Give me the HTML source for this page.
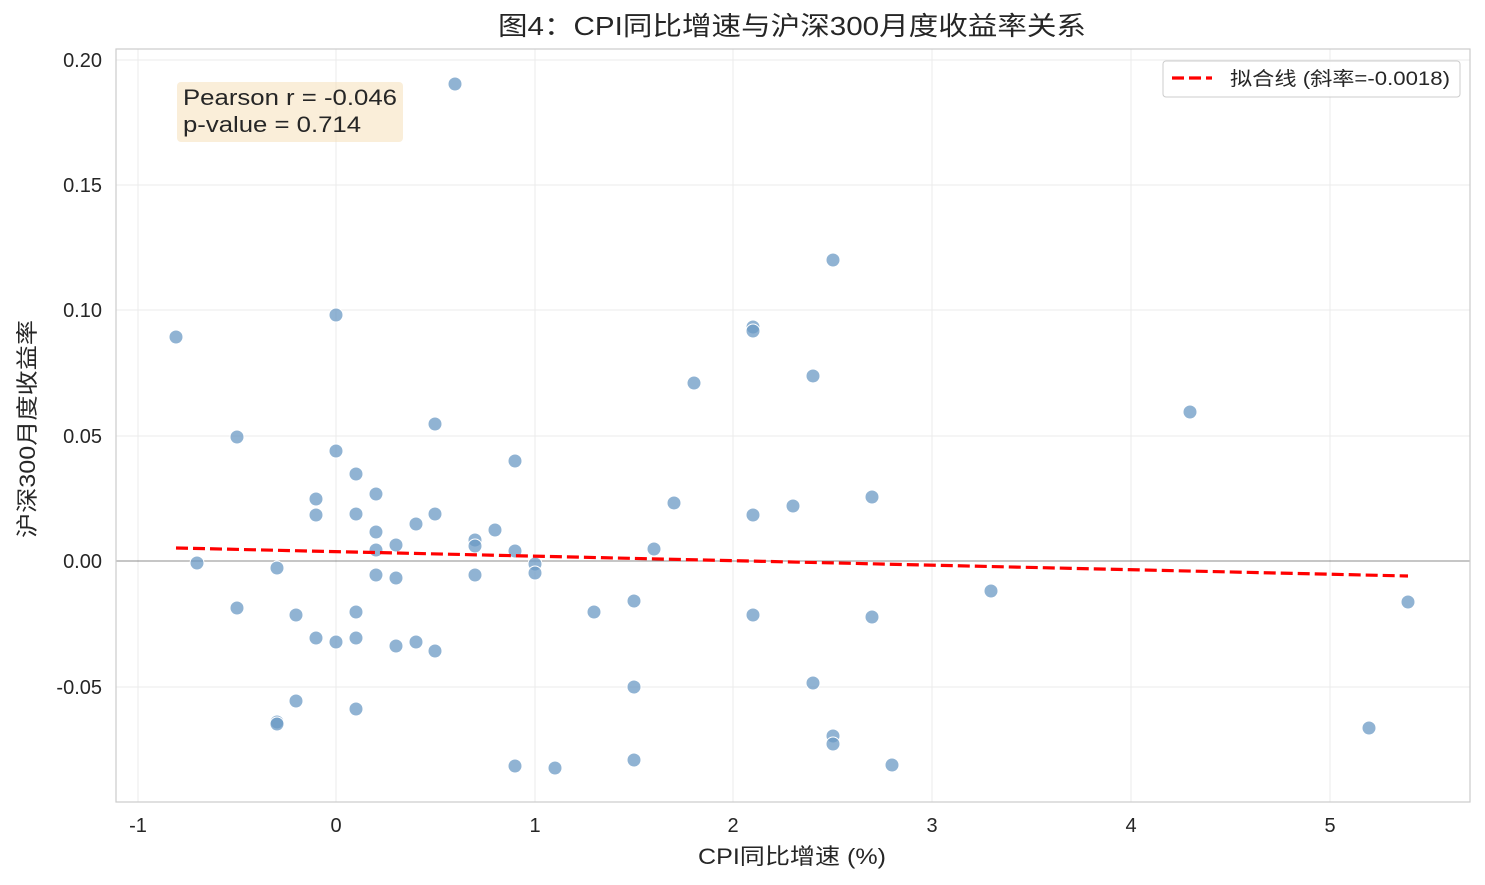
<!DOCTYPE html>
<html><head><meta charset="utf-8"><style>
body{margin:0;background:#fff;}
svg{display:block;font-family:"Liberation Sans","Noto Sans CJK SC",sans-serif;}
</style></head><body>
<svg width="1485" height="885" viewBox="0 0 1485 885">
<rect width="1485" height="885" fill="#fff"/>
<g stroke="#ebebeb" stroke-width="1">
<line x1="138" y1="49" x2="138" y2="802"/><line x1="336" y1="49" x2="336" y2="802"/>
<line x1="535" y1="49" x2="535" y2="802"/><line x1="733" y1="49" x2="733" y2="802"/>
<line x1="932" y1="49" x2="932" y2="802"/><line x1="1131" y1="49" x2="1131" y2="802"/>
<line x1="1330" y1="49" x2="1330" y2="802"/>
<line x1="116" y1="60" x2="1470" y2="60"/><line x1="116" y1="185" x2="1470" y2="185"/>
<line x1="116" y1="310" x2="1470" y2="310"/><line x1="116" y1="436" x2="1470" y2="436"/>
<line x1="116" y1="687" x2="1470" y2="687"/>
</g>
<line x1="116" y1="561" x2="1470" y2="561" stroke="#666" stroke-width="0.8"/>
<rect x="116" y="49" width="1354" height="753" fill="none" stroke="#ccc" stroke-width="1.2"/>
<g fill="#6b9ac4" fill-opacity="0.75" stroke="#fff" stroke-width="1">
<circle cx="176" cy="337" r="7"/><circle cx="197" cy="563" r="7"/><circle cx="237" cy="437" r="7"/><circle cx="237" cy="608" r="7"/><circle cx="277" cy="568" r="7"/><circle cx="277" cy="722" r="7"/><circle cx="277" cy="724" r="7"/><circle cx="296" cy="615" r="7"/><circle cx="296" cy="701" r="7"/><circle cx="316" cy="499" r="7"/><circle cx="316" cy="515" r="7"/><circle cx="316" cy="638" r="7"/><circle cx="336" cy="451" r="7"/><circle cx="336" cy="315" r="7"/><circle cx="336" cy="642" r="7"/><circle cx="356" cy="474" r="7"/><circle cx="356" cy="514" r="7"/><circle cx="356" cy="612" r="7"/><circle cx="356" cy="638" r="7"/><circle cx="356" cy="709" r="7"/><circle cx="376" cy="494" r="7"/><circle cx="376" cy="532" r="7"/><circle cx="376" cy="550" r="7"/><circle cx="376" cy="575" r="7"/><circle cx="396" cy="545" r="7"/><circle cx="396" cy="578" r="7"/><circle cx="396" cy="646" r="7"/><circle cx="416" cy="524" r="7"/><circle cx="416" cy="642" r="7"/><circle cx="435" cy="424" r="7"/><circle cx="435" cy="514" r="7"/><circle cx="435" cy="651" r="7"/><circle cx="455" cy="84" r="7"/><circle cx="475" cy="540" r="7"/><circle cx="475" cy="546" r="7"/><circle cx="475" cy="575" r="7"/><circle cx="495" cy="530" r="7"/><circle cx="515" cy="461" r="7"/><circle cx="515" cy="551" r="7"/><circle cx="515" cy="766" r="7"/><circle cx="535" cy="564" r="7"/><circle cx="535" cy="573" r="7"/><circle cx="555" cy="768" r="7"/><circle cx="594" cy="612" r="7"/><circle cx="634" cy="601" r="7"/><circle cx="634" cy="687" r="7"/><circle cx="634" cy="760" r="7"/><circle cx="654" cy="549" r="7"/><circle cx="674" cy="503" r="7"/><circle cx="694" cy="383" r="7"/><circle cx="753" cy="327" r="7"/><circle cx="753" cy="331" r="7"/><circle cx="753" cy="515" r="7"/><circle cx="753" cy="615" r="7"/><circle cx="793" cy="506" r="7"/><circle cx="813" cy="376" r="7"/><circle cx="813" cy="683" r="7"/><circle cx="833" cy="260" r="7"/><circle cx="833" cy="736" r="7"/><circle cx="833" cy="744" r="7"/><circle cx="872" cy="497" r="7"/><circle cx="872" cy="617" r="7"/><circle cx="892" cy="765" r="7"/><circle cx="991" cy="591" r="7"/><circle cx="1190" cy="412" r="7"/><circle cx="1369" cy="728" r="7"/><circle cx="1408" cy="602" r="7"/>
</g>
<line x1="176" y1="548" x2="1408" y2="576" stroke="#f00" stroke-width="3.2" stroke-dasharray="12,5"/>
<rect x="177" y="82" width="226" height="60" rx="4" fill="#f5deb3" fill-opacity="0.5"/>
<text x="183" y="105" font-size="22" fill="#262626" textLength="214" lengthAdjust="spacingAndGlyphs">Pearson r = -0.046</text>
<text x="183" y="132" font-size="22" fill="#262626" textLength="178" lengthAdjust="spacingAndGlyphs">p-value = 0.714</text>
<rect x="1163" y="61" width="297" height="36" rx="3" fill="#fff" fill-opacity="0.85" stroke="#ccc"/>
<line x1="1172" y1="78" x2="1212" y2="78" stroke="#f00" stroke-width="3.2" stroke-dasharray="12,5"/>
<text x="1230" y="85" font-size="19" fill="#262626" textLength="220" lengthAdjust="spacingAndGlyphs">拟合线 (斜率=-0.0018)</text>
<g font-size="20" fill="#262626" text-anchor="end">
<text x="102" y="67">0.20</text><text x="102" y="192">0.15</text><text x="102" y="317">0.10</text>
<text x="102" y="443">0.05</text><text x="102" y="568">0.00</text><text x="102" y="694">-0.05</text>
</g>
<g font-size="20" fill="#262626" text-anchor="middle">
<text x="138" y="832">-1</text><text x="336" y="832">0</text><text x="535" y="832">1</text><text x="733" y="832">2</text>
<text x="932" y="832">3</text><text x="1131" y="832">4</text><text x="1330" y="832">5</text>
</g>
<text x="698" y="864" font-size="22" fill="#262626" textLength="188" lengthAdjust="spacingAndGlyphs">CPI同比增速 (%)</text>
<text x="498" y="35" font-size="26" fill="#262626" textLength="588" lengthAdjust="spacingAndGlyphs">图4：CPI同比增速与沪深300月度收益率关系</text>
<text transform="translate(35,538) rotate(-90)" font-size="22" fill="#262626" textLength="218" lengthAdjust="spacingAndGlyphs">沪深300月度收益率</text>
</svg>
</body></html>
